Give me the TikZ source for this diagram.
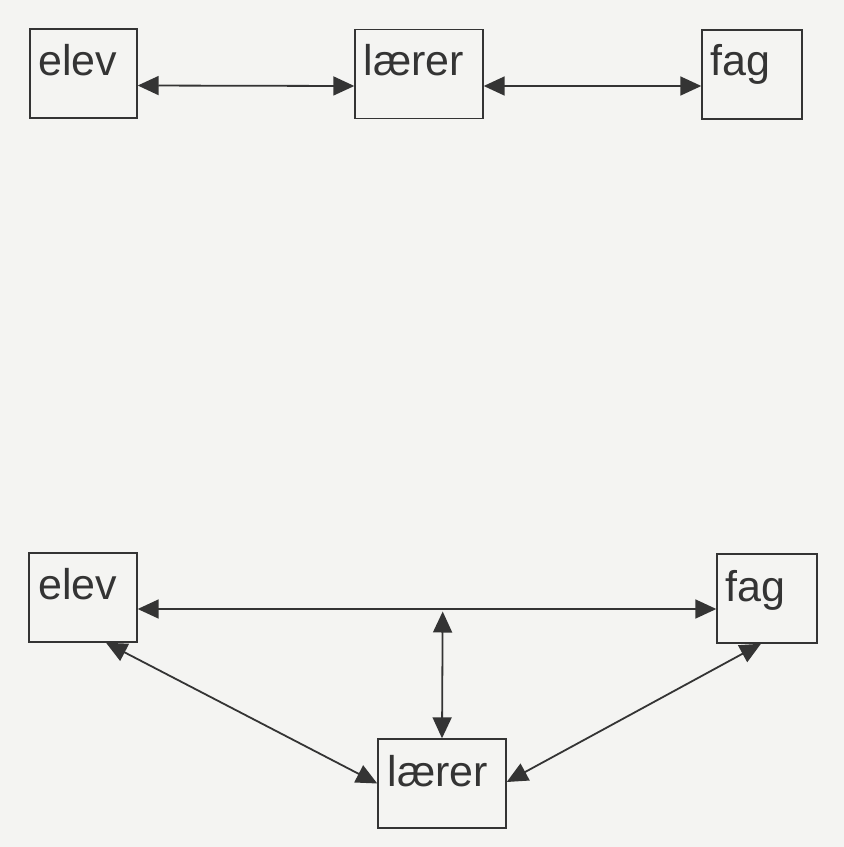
\documentclass[tikz,border=0pt]{standalone}
\usepackage{fontspec}
\setmainfont{Liberation Sans}
\usetikzlibrary{arrows.meta}
\definecolor{ink}{RGB}{52,52,52}
\definecolor{paper}{RGB}{244,244,242}
\begin{document}
\begin{tikzpicture}[x=1pt,y=-1pt,
  box/.style={draw=ink,line width=1.4pt,rectangle,inner sep=0pt,minimum height=89pt},
  word/.style={anchor=base west,inner sep=0pt,text=ink,font=\fontsize{43}{50}\selectfont},
  tip/.style={Triangle[length=21pt,width=19pt]},
  link/.style={draw=ink,line width=1.8pt,{Triangle[length=21pt,width=19pt]}-{Triangle[length=21pt,width=19pt]}}]
  % page
  \fill[paper] (0,0) rectangle (844,847);
  \useasboundingbox (0,0) rectangle (844,847);

  % chain: elev -- laerer -- fag
  \node[box,minimum width=107pt] (elevA) at (83.5,73.5) {};
  \node[box,minimum width=128pt] (laererA) at (419,74) {};
  \node[box,minimum width=100pt] (fagA) at (752,74.5) {};
  \node[word] (elevAt) at ([xshift=9pt,yshift=-47pt]elevA.north west) {elev};
  \node[word] (laererAt) at ([xshift=9pt,yshift=-47pt]laererA.north west) {lærer};
  \node[word] (fagAt) at ([xshift=9pt,yshift=-46pt]fagA.north west) {fag};
  \draw[link] ([yshift=-12pt]elevA.east) -- ([yshift=-12pt]laererA.west);
  \draw[link] ([yshift=-12pt]laererA.east) -- ([yshift=-11.5pt]fagA.west);

  % triangle: elev, fag above, laerer below
  \node[box,minimum width=108pt] (elevB) at (83,597.5) {};
  \node[box,minimum width=100pt] (fagB) at (767,598.5) {};
  \node[box,minimum width=128pt] (laererB) at (442,783.5) {};
  \node[word] (elevBt) at ([xshift=10pt,yshift=-47pt]elevB.north west) {elev};
  \node[word] (fagBt) at ([xshift=9pt,yshift=-48pt]fagB.north west) {fag};
  \node[word] (laererBt) at ([xshift=10pt,yshift=-48pt]laererB.north west) {lærer};
  \coordinate (hub) at (442.7,611.5);
  \draw[link] ([yshift=-11.5pt]elevB.east) -- ([yshift=-10.5pt]fagB.west);
  \draw[link] (hub) -- (laererB.north);
  \draw[link] ([xshift=23pt]elevB.south) -- ([yshift=0pt]laererB.west);
  \draw[link] ([xshift=-6pt]fagB.south) -- ([yshift=1.5pt]laererB.east);
\end{tikzpicture}
\end{document}
